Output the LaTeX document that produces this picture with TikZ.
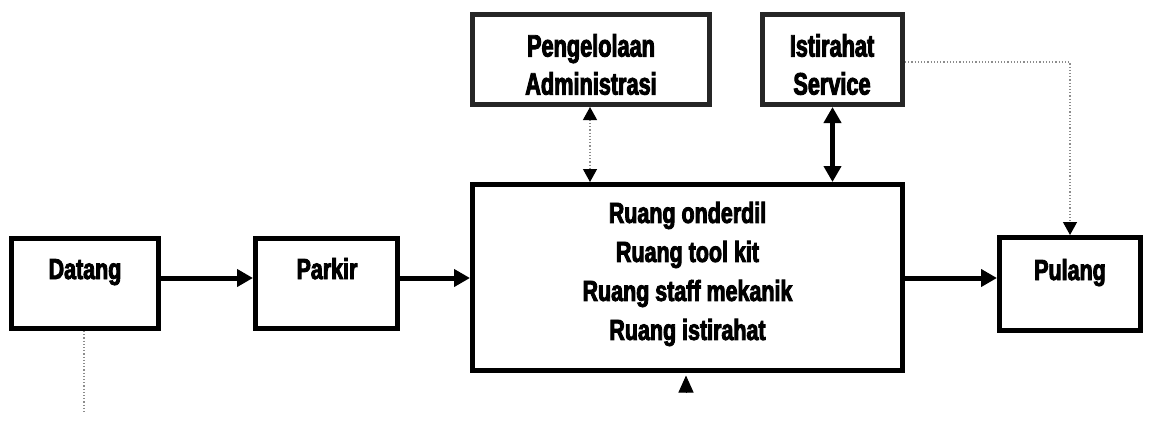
\documentclass[tikz,border=0pt]{standalone}
\usepackage{fontspec}
\newfontfamily\boxfont[FakeStretch=0.74,FakeBold=3]{Liberation Sans}
\newfontfamily\topfont[FakeStretch=0.70,FakeBold=3]{Liberation Sans}
\usetikzlibrary{arrows.meta}

\begin{document}
\begin{tikzpicture}[x=1pt,y=-1pt,
  bigtip/.tip={Triangle[length=16pt,width=17pt]},
  hinttip/.tip={Triangle[length=13pt,width=14pt,color=black]},
  box/.style={draw=black,line width=5pt,inner sep=0pt},
  topbox/.style={box,draw=black!85},
  label/.style={font=\boxfont\bfseries\fontsize{29}{39}\selectfont,inner sep=0pt,align=center},
  toplabel/.style={label,font=\topfont\bfseries\fontsize{31}{38}\selectfont},
  flowline/.style={line width=5pt,-bigtip},
  twoway/.style={line width=4.5pt,bigtip-bigtip},
  hint/.style={draw=black!45,line width=1.2pt,dotted},
]
\useasboundingbox (0,0) rectangle (1150,421);

% boxes
\node[box,minimum width=147pt,minimum height=90pt] (datang) at (85,283.5) {};
\node[box,minimum width=142pt,minimum height=90pt] (parkir) at (326.5,283.5) {};
\node[box,minimum width=430pt,minimum height=186pt] (main) at (687.5,277.5) {};
\node[topbox,minimum width=237pt,minimum height=90pt] (admin) at (591,59.5) {};
\node[topbox,minimum width=140pt,minimum height=90pt] (rest) at (832.5,59.5) {};
\node[box,minimum width=141pt,minimum height=93pt] (pulang) at (1070,284) {};

% texts
\node[label,anchor=base] (datang-t) at (85,279) {Datang};
\node[label,anchor=base] (parkir-t) at (327,279) {Parkir};
\node[label,anchor=base] (pulang-t) at (1070,280) {Pulang};
\node[toplabel] (admin-t) at (591,64.5) {Pengelolaan\\Administrasi};
\node[toplabel] (rest-t) at (832,64.5) {Istirahat\\Service};
\node[label] (main-t) at (687.5,274) {Ruang onderdil\\Ruang tool kit\\Ruang staff mekanik\\Ruang istirahat};

% main flow
\coordinate (flow) at (0,278);
\draw[flowline] (datang.east |- flow) -- (parkir.west |- flow);
\draw[flowline] (parkir.east |- flow) -- (main.west |- flow);
\draw[flowline] (main.east |- flow) -- (pulang.west |- flow);

% links to the upper rooms
\coordinate (adminx) at (590,0);
\draw[hint,hinttip-hinttip] (adminx |- admin.south) -- (adminx |- main.north);
\draw[twoway] (rest.south) -- (rest.south |- main.north);

% exit path from the rest room
\coordinate (restout) at (0,62);
\draw[hint,-hinttip] (rest.east |- restout) -| (pulang.north);

% entry below the main block
\coordinate (below) at (686,393);
\draw[-{Triangle[length=17pt,width=15pt]},line width=1pt] (below) -- ([yshift=-2.5pt]below |- main.south);

% path below the arrival box
\coordinate (arrive) at (84,413);
\draw[hint] (datang.south -| arrive) -- (arrive);
\end{tikzpicture}
\end{document}
